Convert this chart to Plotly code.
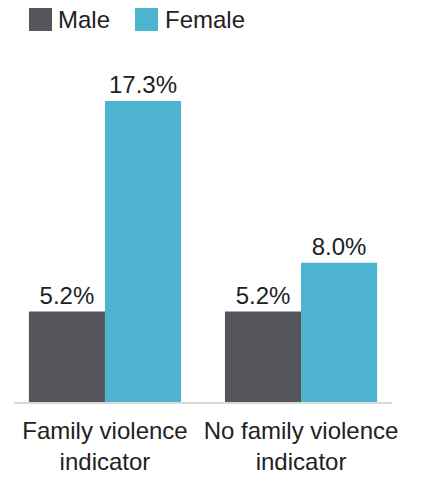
import plotly.graph_objects as go

categories = ["Family violence<br>indicator", "No family violence<br>indicator"]
male = [5.2, 5.2]
female = [17.3, 8.0]

MALE_COLOR = "#55565c"
FEMALE_COLOR = "#4eb3cf"
TEXT_COLOR = "#222222"
FONT = "Liberation Sans, Arial, sans-serif"
FSIZE = 24

fig = go.Figure()
for name, vals, color in [("Male", male, MALE_COLOR), ("Female", female, FEMALE_COLOR)]:
    fig.add_trace(go.Bar(
        x=categories, y=vals, name=name, marker=dict(color=color, line=dict(width=0)),
        text=[f"{v:.1f}%" for v in vals], textposition="outside",
        textfont=dict(size=FSIZE, color=TEXT_COLOR, family=FONT),
        cliponaxis=False, showlegend=False,
    ))

# legend drawn as large swatches with labels (paper coords; plot spans x 14..392, y 54..402 px)
legend_items = [("Male", MALE_COLOR, 29, 56), ("Female", FEMALE_COLOR, 135, 163)]
for label, color, x0, tx in legend_items:
    fig.add_shape(type="rect", xref="paper", yref="paper",
                  x0=(x0 - 14) / 378, x1=(x0 + 23 - 14) / 378,
                  y0=(402 - 31) / 348, y1=(402 - 8) / 348,
                  fillcolor=color, line=dict(width=0))
    fig.add_annotation(text=label, xref="paper", yref="paper",
                       x=(tx - 14) / 378, y=(402 - 19.5) / 348,
                       xanchor="left", yanchor="middle", showarrow=False,
                       font=dict(size=FSIZE, color=TEXT_COLOR, family=FONT))

fig.update_layout(
    width=421, height=481,
    margin=dict(l=14, r=29, t=54, b=79, autoexpand=False),
    barmode="group", bargap=0.224, bargroupgap=0,
    plot_bgcolor="white", paper_bgcolor="white",
    font=dict(family=FONT, color=TEXT_COLOR),
    xaxis=dict(range=[-0.464, 1.464], showline=True, linecolor="#d9d9d9", linewidth=2,
               ticks="", ticklabelstandoff=6, automargin=False,
               tickfont=dict(size=FSIZE, color=TEXT_COLOR, family=FONT)),
    yaxis=dict(range=[0, 20], visible=False, automargin=False),
)

fig.write_html("out.html")
